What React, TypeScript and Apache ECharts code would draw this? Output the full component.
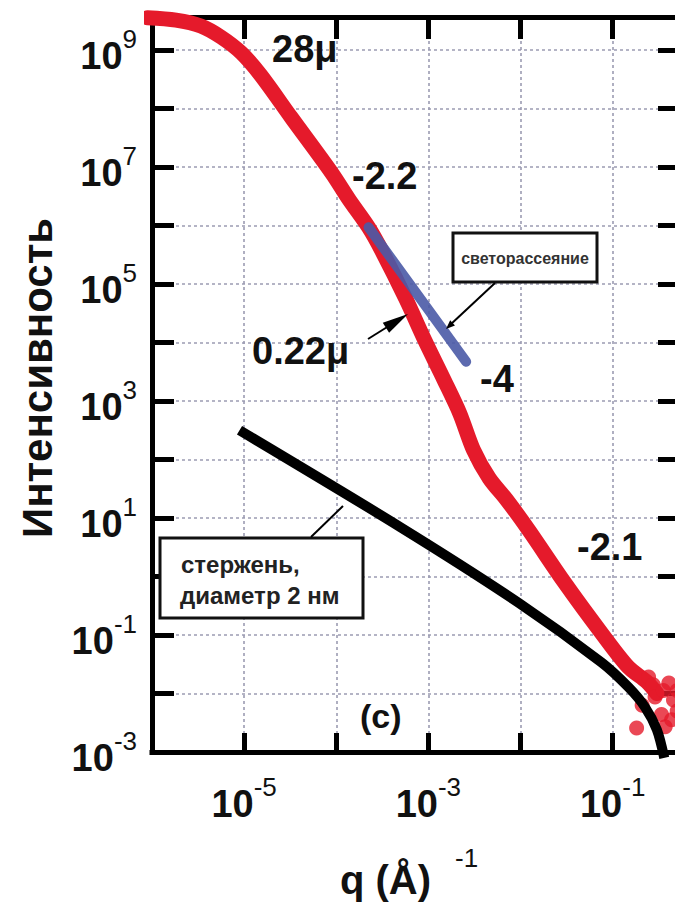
import React, { useEffect, useRef } from 'react';
import * as echarts from 'echarts';

const FONT = "'Liberation Sans', Arial, Helvetica, sans-serif";

// values are log10 of q (1/Å) and log10 of intensity
const redLogQ = [-6.05, -5.74, -5.47, -5.25, -5.03, -4.82, -4.49, -4.05, -3.86, -3.65, -3.51, -3.24, -3.04, -2.83, -2.66, -2.51, -2.34, -2.15, -1.91, -1.52, -1.12, -0.83, -0.63, -0.52];
const redLogI = [9.55, 9.51, 9.41, 9.22, 8.95, 8.57, 7.85, 6.9, 6.44, 5.97, 5.58, 4.73, 4.04, 3.36, 2.79, 2.16, 1.68, 1.31, 0.79, -0.11, -0.97, -1.55, -1.8, -2.0];

const tailLogQ = [-0.74, -0.68, -0.61, -0.56, -0.54, -0.47, -0.45, -0.43, -0.39, -0.34, -0.3, -0.3, -0.36];
const tailLogI = [-2.59, -2.2, -1.72, -1.85, -2.06, -2.36, -1.95, -2.57, -1.82, -2.11, -1.95, -2.3, -2.45];

const blueLogQ = [-3.65, -2.59];
const blueLogI = [5.97, 3.67];

const rodLogQ = [-5.05, -3.29, -2.02, -1.12, -0.83, -0.65, -0.52, -0.44];
const rodLogI = [2.5, 0.83, -0.45, -1.47, -1.89, -2.23, -2.62, -3.1];

const xRange = [-6, -0.28];
const yRange = [-3, 9.564];

const pairs = (a: number[], b: number[]) => a.map((v, i) => [v, b[i]]);

const expFmt = (v: number) => {
  const r = Math.round(v);
  if (Math.abs(v - r) > 1e-6 || r % 2 === 0) return '';
  return `{b|10}{s|${r}}`;
};

const rich = {
  b: { fontSize: 38, fontWeight: 'bold', fontFamily: FONT, color: '#111', lineHeight: 60 },
  s: { fontSize: 26, fontFamily: FONT, color: '#111', lineHeight: 26, verticalAlign: 'top' },
};

const axisLineStyle = { color: '#000', width: 5, cap: 'square' };
const gridLine = { show: true, lineStyle: { color: '#9c9cb2', width: 1.6, type: [3, 3] } };

const RED = '#e51a2b';

export default function App() {
  const ref = useRef<HTMLDivElement>(null);
  useEffect(() => {
    if (!ref.current) return;
    const chart = echarts.init(ref.current, undefined, { renderer: 'svg' });
    const txt = (text: string, x: number, y: number, size: number, extra: any = {}, rotation = 0) => ({
      type: 'text',
      x,
      y,
      rotation,
      z: 100,
      style: {
        text,
        fontSize: size,
        fontWeight: 'bold',
        fontFamily: FONT,
        fill: '#111',
        textAlign: 'left',
        textVerticalAlign: 'middle',
        ...extra,
      },
    });
    const arrowHead = (tx: number, ty: number, fx: number, fy: number, len: number, half: number) => {
      const dx = tx - fx, dy = ty - fy;
      const d = Math.hypot(dx, dy);
      const ux = dx / d, uy = dy / d;
      const bx = tx - ux * len, by = ty - uy * len;
      return {
        type: 'polygon',
        z: 100,
        shape: { points: [[tx, ty], [bx - uy * half, by + ux * half], [bx + uy * half, by - ux * half]] },
        style: { fill: '#000' },
      };
    };
    chart.setOption({
      animation: false,
      backgroundColor: '#fff',
      grid: { left: 152, right: -4, top: 17, bottom: 151, containLabel: false, outerBoundsMode: 'none' },
      xAxis: [
        {
          type: 'value', min: xRange[0], max: xRange[1], interval: 1, position: 'bottom',
          axisLine: { show: true, onZero: false, lineStyle: axisLineStyle },
          axisTick: { show: true, inside: true, length: 19, lineStyle: { color: '#000', width: 5 } },
          axisLabel: { formatter: expFmt, rich, margin: 22, showMinLabel: true, showMaxLabel: true },
          splitLine: gridLine,
        },
        {
          type: 'value', min: xRange[0], max: xRange[1], interval: 1, position: 'top',
          axisLine: { show: true, onZero: false, lineStyle: axisLineStyle },
          axisTick: { show: true, inside: true, length: 22, lineStyle: { color: '#000', width: 5 } },
          axisLabel: { show: false },
          splitLine: { show: false },
        },
      ],
      yAxis: [
        {
          type: 'value', min: yRange[0], max: yRange[1], interval: 1, position: 'left',
          axisLine: { show: true, onZero: false, lineStyle: axisLineStyle },
          axisTick: { show: true, inside: true, length: 22, lineStyle: { color: '#000', width: 5 } },
          axisLabel: { formatter: expFmt, rich, margin: 15, padding: [12, 0, 0, 0], showMinLabel: true, showMaxLabel: true },
          splitLine: gridLine,
        },
        {
          type: 'value', min: yRange[0], max: yRange[1], interval: 1, position: 'right',
          axisLine: { show: true, onZero: false, lineStyle: axisLineStyle },
          axisTick: { show: true, inside: true, length: 21, lineStyle: { color: '#000', width: 5 } },
          axisLabel: { show: false },
          splitLine: { show: false },
        },
      ],
      series: [
        {
          type: 'line', data: pairs(redLogQ, redLogI), showSymbol: false, smooth: 0.3, clip: false,
          lineStyle: { color: RED, width: 15, cap: 'round', join: 'round' }, z: 2,
        },
        {
          type: 'scatter', data: pairs(tailLogQ, tailLogI), symbolSize: 15, clip: false,
          itemStyle: { color: RED }, z: 2,
        },
        {
          type: 'line', data: pairs(blueLogQ, blueLogI), showSymbol: false,
          lineStyle: { color: '#4a5aa6', width: 10, cap: 'round', opacity: 0.9 }, z: 3,
        },
        {
          type: 'line', data: pairs(rodLogQ, rodLogI), showSymbol: false, smooth: 0.3, clip: false,
          lineStyle: { color: '#000', width: 10, cap: 'butt', join: 'round' }, z: 4,
        },
      ],
      graphic: [
        txt('Интенсивность', 37, 378, 42, { textAlign: 'center' }, Math.PI / 2),
        txt('q (Å)', 340, 880, 40),
        txt('-1', 455, 858, 26, { fontWeight: 'normal' }),
        txt('28μ', 272, 49, 38),
        txt('-2.2', 352, 176, 38),
        txt('0.22μ', 252, 351, 38),
        txt('-4', 480, 379, 38),
        txt('-2.1', 577, 547, 38),
        txt('(c)', 360, 716, 34),
        {
          type: 'rect', z: 99, shape: { x: 453, y: 233, width: 144, height: 49 },
          style: { fill: '#fff', stroke: '#111', lineWidth: 3 },
        },
        txt('светорассеяние', 525, 258, 16, { textAlign: 'center', fill: '#333' }),
        {
          type: 'rect', z: 99, shape: { x: 160, y: 538, width: 203, height: 80 },
          style: { fill: '#fff', stroke: '#111', lineWidth: 3 },
        },
        txt('стержень,', 181, 564, 24, { fill: '#222' }),
        txt('диаметр 2 нм', 180, 595, 24, { fill: '#222' }),
        { type: 'line', z: 100, shape: { x1: 311, y1: 537, x2: 343, y2: 506 }, style: { stroke: '#000', lineWidth: 2 } },
        { type: 'line', z: 100, shape: { x1: 495, y1: 283, x2: 450, y2: 325 }, style: { stroke: '#000', lineWidth: 2 } },
        arrowHead(446, 329, 495, 283, 9, 3.5),
        { type: 'line', z: 100, shape: { x1: 368, y1: 339, x2: 392, y2: 324 }, style: { stroke: '#000', lineWidth: 2 } },
        arrowHead(408, 314, 368, 339, 26, 6),
      ],
    });
    return () => chart.dispose();
  }, []);
  return (
    <div
      ref={ref}
      style={{ position: 'absolute', left: 0, top: 0, width: 675, height: 903, background: '#fff' }}
    />
  );
}
